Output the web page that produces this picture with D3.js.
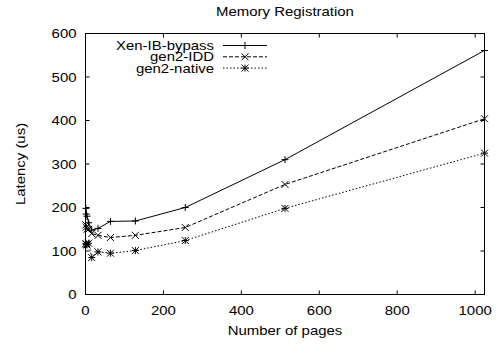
<!DOCTYPE html>
<html><head><meta charset="utf-8">
<script src="https://cdn.jsdelivr.net/npm/d3@7"></script>
<style>body{margin:0;background:#fff}svg{display:block}text{font-family:"Liberation Sans",Arial,sans-serif;fill:#000}</style>
</head><body>
<svg id="c" width="496" height="346"></svg>
<script>
const pages = [1,2,4,8,16,32,64,128,256,512,1024];
const xenBypass = [198,185,180,165,148,152,168,169,200,310,561];
const gen2IDD = [160,155,150,150,140,136,131,136,154,253,404];
const gen2Native = [117,115,114,118,85,98,95,101,124,198,325];
const xTicks = [0,200,400,600,800,1000];
const yTicks = [0,100,200,300,400,500,600];
const seriesNames = ["Xen-IB-bypass","gen2-IDD","gen2-native"];

const svg = d3.select("#c");
const L=85.5, R=484.5, T=33.5, B=294.5;
const x = d3.scaleLinear().domain([0,1024]).range([L,R]);
const y = d3.scaleLinear().domain([0,600]).range([B,T]);
const fs = 13, sx = 1.15;

function txt(px, py, str, anchor, rot){
  return svg.append("text")
    .attr("transform", `translate(${px},${py})${rot?` rotate(${rot})`:""} scale(${sx},1)`)
    .attr("text-anchor", anchor).attr("font-size", fs).text(str);
}

svg.append("rect").attr("x",L).attr("y",T).attr("width",R-L).attr("height",B-T)
  .attr("fill","none").attr("stroke","#000").attr("stroke-width",1);

const tl=4;
xTicks.forEach(t=>{
  svg.append("line").attr("x1",x(t)).attr("x2",x(t)).attr("y1",B).attr("y2",B-tl).attr("stroke","#000");
  svg.append("line").attr("x1",x(t)).attr("x2",x(t)).attr("y1",T).attr("y2",T+tl).attr("stroke","#000");
  txt(x(t), B+20.5, t, "middle");
});
yTicks.forEach(t=>{
  svg.append("line").attr("x1",L).attr("x2",L+tl).attr("y1",y(t)).attr("y2",y(t)).attr("stroke","#000");
  svg.append("line").attr("x1",R).attr("x2",R-tl).attr("y1",y(t)).attr("y2",y(t)).attr("stroke","#000");
  txt(L-9, y(t)+4.6, t, "end");
});

txt((L+R)/2, 15.5, "Memory Registration", "middle");
txt((L+R)/2, 335, "Number of pages", "middle");
txt(25, (T+B)/2, "Latency (us)", "middle", -90);

const dashes = [null,"4,2","1.5,2"];
const s = 3.5;
function marker(sel, kind, cx, cy){
  const p = [];
  if(kind===0||kind===2){ p.push(`M${cx-s},${cy}H${cx+s}M${cx},${cy-s}V${cy+s}`); }
  if(kind===1||kind===2){ p.push(`M${cx-s},${cy-s}L${cx+s},${cy+s}M${cx-s},${cy+s}L${cx+s},${cy-s}`); }
  sel.append("path").attr("d",p.join("")).attr("stroke","#000").attr("stroke-width",1).attr("fill","none");
}
const data = [xenBypass, gen2IDD, gen2Native];
const line = d3.line().x(d=>x(d[0])).y(d=>y(d[1]));
data.forEach((vals,i)=>{
  const pts = pages.map((p,j)=>[p,vals[j]]);
  svg.append("path").attr("d",line(pts)).attr("fill","none").attr("stroke","#000").attr("stroke-width",1)
    .attr("stroke-dasharray",dashes[i]);
  const mg = svg.append("g");
  pts.forEach(d=>marker(mg,i,x(d[0]),y(d[1])));
  const ly = 45.5+i*11.3;
  txt(214, ly+4.6, seriesNames[i], "end");
  svg.append("line").attr("x1",223).attr("x2",267).attr("y1",ly).attr("y2",ly).attr("stroke","#000").attr("stroke-dasharray",dashes[i]);
  marker(svg,i,245,ly);
});
</script>
</body></html>
